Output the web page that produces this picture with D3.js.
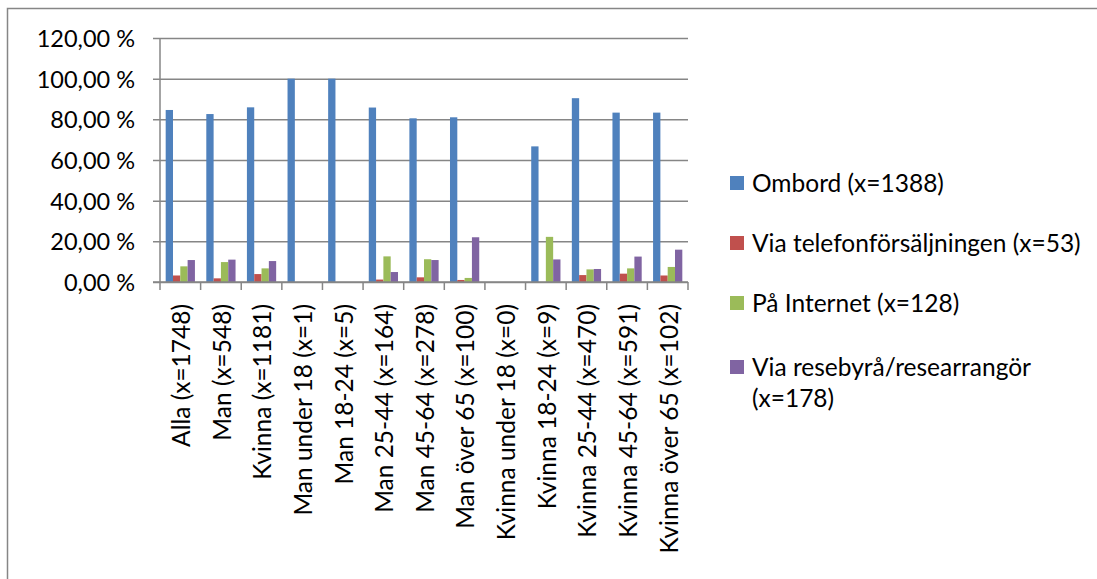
<!DOCTYPE html>
<html>
<head>
<meta charset="utf-8">
<script src="https://cdn.jsdelivr.net/npm/d3@7"></script>
<style>
  html, body { margin: 0; padding: 0; background: #fff; }
  svg { display: block; }
  text { font-family: Lato, "Open Sans", sans-serif; fill: #000; }
</style>
</head>
<body>
<svg id="chart" width="1097" height="579"></svg>
<script>
// Respondent groups
const categories = [
  "Alla (x=1748)", "Man (x=548)", "Kvinna (x=1181)", "Man under 18 (x=1)",
  "Man 18-24 (x=5)", "Man 25-44 (x=164)", "Man 45-64 (x=278)", "Man över 65 (x=100)",
  "Kvinna under 18 (x=0)", "Kvinna 18-24 (x=9)", "Kvinna 25-44 (x=470)",
  "Kvinna 45-64 (x=591)", "Kvinna över 65 (x=102)"
];

// Share (%) per purchase channel and group
const ombord    = [84.6, 82.6, 85.9, 100, 100, 85.8, 80.5, 81, 0, 66.7, 90.4, 83.3, 83.3];
const telefon   = [3.2, 1.8, 3.9, 0, 0, 1.2, 2.3, 1, 0, 0, 3.4, 4.1, 3.2];
const internet  = [7.7, 9.8, 6.7, 0, 0, 12.6, 11.2, 2, 0, 22.2, 6.2, 6.7, 7.4];
const resebyra  = [10.8, 11.0, 10.3, 0, 0, 4.9, 10.8, 22, 0, 11.1, 6.4, 12.5, 15.9];

const seriesNames = [
  "Ombord (x=1388)",
  "Via telefonförsäljningen (x=53)",
  "På Internet (x=128)",
  "Via resebyrå/researrangör (x=178)"
];
const legendLines = [
  ["Ombord (x=1388)"],
  ["Via telefonförsäljningen (x=53)"],
  ["På Internet (x=128)"],
  ["Via resebyrå/researrangör", "(x=178)"]
];
const colors = ["#4F81BD", "#C0504D", "#9BBB59", "#8064A2"];
const yTicks = [0, 20, 40, 60, 80, 100, 120];

const seriesValues = [ombord, telefon, internet, resebyra];

const svg = d3.select("#chart");
const gridColor = "#868686";

// Outer chart frame
svg.append("rect")
  .attr("x", 7.5).attr("y", 8.5)
  .attr("width", 1200).attr("height", 700)
  .attr("fill", "none").attr("stroke", gridColor).attr("stroke-width", 1.5);

const plot = { left: 160, right: 688, top: 38, bottom: 282 };

const x0 = d3.scaleBand().domain(categories).range([plot.left, plot.right]).padding(0);
const bw = x0.bandwidth();
const x1 = d3.scaleBand().domain(seriesNames).range([bw * 0.14, bw * 0.86]).padding(0);
const y = d3.scaleLinear().domain([0, 120]).range([plot.bottom, plot.top]);

const locale = d3.formatLocale({ decimal: ",", thousands: " ", grouping: [3], currency: ["", ""] });
const fmt = locale.format(".2f");

// Horizontal gridlines with left tick marks
const yAxis = d3.axisLeft(y).tickValues(yTicks).tickSize(plot.right - plot.left + 7)
  .tickFormat(d => fmt(d) + " %").tickPadding(20);
const gy = svg.append("g").attr("transform", `translate(${plot.right},0)`).call(yAxis);
gy.select(".domain").remove();
gy.selectAll(".tick line").attr("stroke", gridColor).attr("stroke-width", 1.5);
gy.selectAll(".tick text")
  .attr("x", -(plot.right - plot.left) - 25)
  .attr("font-size", 23.5).attr("dy", "0.36em")
  .style("font-family", "Lato, 'Open Sans', sans-serif");

// Bars
const groups = svg.append("g").selectAll("g")
  .data(categories).join("g")
  .attr("transform", d => `translate(${x0(d)},0)`);

groups.selectAll("rect")
  .data((c, i) => seriesNames.map((s, k) => ({ s, k, v: seriesValues[k][i] })))
  .join("rect")
  .filter(d => d.v > 0)
  .attr("x", d => x1(d.s))
  .attr("y", d => y(d.v))
  .attr("width", x1.bandwidth())
  .attr("height", d => y(0) - y(d.v))
  .attr("fill", d => colors[d.k]);

// Vertical axis line
svg.append("line")
  .attr("x1", plot.left).attr("x2", plot.left)
  .attr("y1", plot.top).attr("y2", plot.bottom)
  .attr("stroke", gridColor).attr("stroke-width", 1.5);

// Category axis with tick marks at band boundaries
const gx = svg.append("g").attr("transform", `translate(0,${plot.bottom})`);
gx.append("line")
  .attr("x1", plot.left - 7).attr("x2", plot.right)
  .attr("stroke", gridColor).attr("stroke-width", 1.5);
const bounds = categories.map(c => x0(c)).concat([plot.right]);
gx.selectAll("line.tk").data(bounds).join("line").attr("class", "tk")
  .attr("x1", d => d).attr("x2", d => d)
  .attr("y1", 0).attr("y2", 8)
  .attr("stroke", gridColor).attr("stroke-width", 1.5);
gx.selectAll("text").data(categories).join("text")
  .attr("transform", d => `translate(${x0(d) + bw / 2 + 1},22) rotate(-90)`)
  .attr("text-anchor", "end")
  .attr("dy", "0.36em")
  .attr("font-size", 24.5)
  .text(d => d);

// Legend
const legend = svg.append("g").attr("transform", "translate(730,0)");
const rowY = [183, 243, 303, 367];
legendLines.forEach((lines, k) => {
  const g = legend.append("g").attr("transform", `translate(0,${rowY[k]})`);
  g.append("rect").attr("x", 0).attr("y", -7).attr("width", 14).attr("height", 14)
    .attr("fill", colors[k]);
  const t = g.append("text").attr("x", 22).attr("dy", "0.36em").attr("font-size", 24.5);
  lines.forEach((ln, j) => {
    t.append("tspan").attr("x", 22).attr("dy", j === 0 ? "0.36em" : 31).text(ln);
  });
});
</script>
</body>
</html>
